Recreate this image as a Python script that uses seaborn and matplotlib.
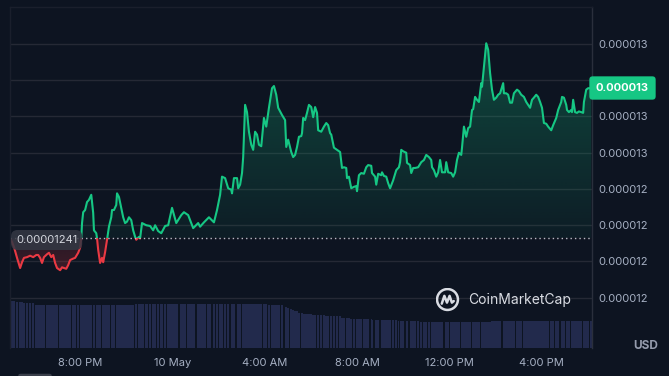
import numpy as np
import pandas as pd
import matplotlib
matplotlib.use("Agg")
import matplotlib.pyplot as plt
import matplotlib.dates as mdates
from matplotlib.patches import Rectangle, FancyBboxPatch, Circle
from matplotlib.colors import to_rgb
import seaborn as sns

# ---- data ----
start = "2024-05-09 16:58"
# minutes after start
minutes = [
    0, 5, 10, 18, 26, 31, 36, 44, 52, 60,
    68, 73, 78, 83, 88, 96, 101, 107, 112, 117,
    122, 130, 135, 140, 146, 151, 156, 164, 169, 177,
    182, 185, 187, 190, 195, 200, 205, 211, 216, 218,
    224, 226, 229, 234, 239, 242, 247, 252, 257, 263,
    265, 270, 276, 278, 283, 289, 294, 299, 304, 309,
    315, 320, 325, 328, 335, 338, 343, 354, 364, 372,
    377, 385, 393, 403, 411, 421, 432, 445, 452, 463,
    468, 476, 489, 494, 504, 517, 530, 538, 546, 551,
    559, 567, 575, 577, 582, 590, 593, 598, 603, 606,
    611, 616, 621, 627, 632, 637, 642, 647, 653, 660,
    666, 673, 681, 686, 692, 697, 707, 715, 718, 723,
    731, 736, 741, 746, 751, 757, 759, 762, 767, 772,
    777, 783, 788, 793, 798, 801, 809, 816, 822, 827,
    832, 835, 842, 850, 858, 863, 868, 874, 876, 881,
    887, 894, 900, 902, 907, 913, 920, 926, 931, 939,
    941, 949, 952, 957, 965, 967, 972, 978, 983, 988,
    996, 1004, 1011, 1014, 1017, 1022, 1030, 1032, 1040, 1043,
    1048, 1053, 1061, 1069, 1076, 1082, 1089, 1095, 1097, 1102,
    1108, 1113, 1118, 1123, 1131, 1134, 1139, 1147, 1152, 1157,
    1162, 1167, 1173, 1175, 1180, 1186, 1191, 1196, 1201, 1204,
    1209, 1214, 1219, 1225, 1227, 1232, 1238, 1243, 1248, 1253,
    1258, 1264, 1269, 1274, 1282, 1284, 1290, 1295, 1300, 1305,
    1310, 1318, 1323, 1329, 1336, 1342, 1347, 1352, 1357, 1362,
    1368, 1373, 1378, 1383, 1388, 1394, 1399, 1407, 1412, 1420,
    1425, 1433, 1435, 1440, 1446, 1448, 1453, 1459, 1461, 1464,
    1469, 1474, 1479, 1485, 1490, 1492, 1498, 1503, 1511,
]
# price in units of 1e-8 USD
price_e8 = [
    1241.0, 1240.5, 1239.8, 1238.3, 1236.9, 1237.7, 1238.3, 1238.4, 1238.6, 1238.4,
    1238.7, 1238.7, 1238.3, 1237.6, 1238.4, 1238.8, 1239.0, 1238.4, 1238.7, 1237.6,
    1236.9, 1236.6, 1237.0, 1236.9, 1236.8, 1237.3, 1238.0, 1238.2, 1238.3, 1239.0,
    1239.7, 1241.0, 1243.1, 1244.6, 1244.9, 1246.0, 1246.3, 1247.0, 1244.5, 1242.1,
    1241.7, 1241.0, 1239.4, 1237.6, 1238.3, 1237.7, 1239.1, 1240.8, 1242.6, 1243.9,
    1244.9, 1244.9, 1245.6, 1247.2, 1246.7, 1245.2, 1243.9, 1243.1, 1243.3, 1243.9,
    1243.5, 1242.1, 1241.2, 1240.8, 1241.2, 1241.0, 1243.1, 1242.8, 1242.7, 1242.1,
    1242.8, 1242.0, 1241.7, 1242.7, 1242.8, 1245.2, 1243.1, 1244.2, 1244.6, 1244.2,
    1243.5, 1242.4, 1243.1, 1242.6, 1243.2, 1243.9, 1243.2, 1244.9, 1247.0, 1249.5,
    1249.3, 1247.9, 1247.7, 1247.2, 1249.3, 1249.3, 1247.9, 1248.4, 1250.0, 1252.2,
    1259.4, 1258.4, 1255.7, 1253.9, 1253.2, 1255.7, 1255.3, 1253.9, 1253.7, 1257.6,
    1256.4, 1259.0, 1261.7, 1262.0, 1260.8, 1259.0, 1258.0, 1257.3, 1253.6, 1254.6,
    1252.9, 1252.2, 1252.5, 1253.6, 1255.0, 1255.1, 1255.5, 1257.6, 1257.3, 1258.3,
    1259.4, 1259.1, 1257.7, 1259.1, 1258.3, 1255.9, 1255.7, 1256.4, 1256.9, 1256.6,
    1255.5, 1255.3, 1253.5, 1253.2, 1252.9, 1250.7, 1250.8, 1250.7, 1249.3, 1249.5,
    1247.9, 1248.1, 1248.2, 1247.5, 1249.7, 1250.0, 1249.9, 1250.8, 1251.1, 1251.0,
    1250.0, 1249.5, 1248.4, 1249.9, 1249.7, 1250.1, 1249.6, 1249.5, 1248.6, 1247.9,
    1249.0, 1250.4, 1250.8, 1251.5, 1253.2, 1253.0, 1252.8, 1251.4, 1251.1, 1250.0,
    1250.7, 1250.7, 1250.8, 1251.5, 1251.8, 1252.5, 1252.2, 1251.8, 1250.8, 1250.4,
    1249.5, 1250.1, 1251.8, 1250.1, 1250.1, 1251.5, 1250.1, 1250.0, 1249.5, 1250.1,
    1251.8, 1252.8, 1252.5, 1253.5, 1256.4, 1255.0, 1256.2, 1256.4, 1258.7, 1258.8,
    1260.5, 1260.1, 1259.8, 1262.4, 1261.9, 1264.6, 1267.9, 1267.0, 1263.8, 1261.5,
    1260.1, 1260.4, 1260.8, 1261.0, 1262.4, 1261.0, 1261.0, 1260.8, 1259.7, 1259.7,
    1261.0, 1261.5, 1261.3, 1260.8, 1260.5, 1259.8, 1259.4, 1259.0, 1260.1, 1260.4,
    1260.8, 1260.5, 1259.8, 1259.0, 1256.9, 1256.8, 1256.4, 1255.9, 1256.6, 1257.6,
    1258.7, 1259.8, 1260.5, 1260.4, 1259.4, 1258.7, 1258.4, 1258.7, 1258.4, 1260.1,
    1258.4, 1258.3, 1258.5, 1258.4, 1258.3, 1259.8, 1261.5, 1261.7, 1261.7,
]
# 24h volume, thousand USD
volume_k = [
    48.0, 47.5, 47.0, 46.5, 46.3, 46.0, 45.5, 45.0, 44.7, 44.7,
    43.3, 43.3, 43.3, 43.3, 43.3, 43.3, 43.3, 43.3, 43.3, 43.3,
    43.3, 43.3, 43.3, 43.3, 43.3, 43.3, 43.3, 43.3, 43.3, 43.3,
    42.6, 43.3, 43.3, 43.3, 43.3, 43.3, 43.3, 43.3, 43.3, 43.3,
    43.3, 43.3, 43.3, 43.3, 43.3, 43.3, 43.3, 43.3, 43.3, 43.3,
    43.3, 43.3, 43.3, 43.3, 43.3, 43.3, 43.3, 43.3, 43.3, 43.3,
    43.3, 43.3, 43.3, 44.0, 44.0, 44.0, 44.0, 44.0, 44.0, 44.0,
    44.0, 44.0, 44.0, 44.0, 44.0, 44.0, 44.0, 44.0, 44.0, 44.0,
    44.0, 44.0, 44.0, 44.0, 44.0, 44.0, 44.0, 44.0, 44.0, 44.0,
    44.0, 44.0, 44.0, 44.0, 44.0, 44.0, 44.0, 44.0, 44.0, 44.3,
    44.3, 44.3, 44.3, 44.3, 44.3, 44.3, 44.3, 44.3, 44.3, 44.3,
    44.3, 43.3, 43.3, 43.3, 43.3, 43.3, 43.3, 41.5, 41.0, 40.5,
    39.5, 38.0, 37.3, 36.6, 35.3, 35.0, 34.7, 34.5, 34.3, 34.0,
    33.8, 33.7, 33.2, 33.2, 33.2, 33.2, 33.2, 33.2, 32.0, 32.0,
    32.0, 32.0, 32.0, 32.0, 32.0, 30.0, 30.0, 30.0, 30.0, 30.0,
    28.8, 28.8, 28.8, 28.8, 28.8, 28.8, 28.8, 28.8, 28.8, 28.8,
    27.8, 27.8, 27.8, 27.8, 27.8, 27.8, 27.8, 27.8, 27.8, 27.8,
    27.8, 27.8, 27.0, 27.0, 27.0, 27.0, 27.0, 27.0, 27.0, 27.0,
    27.0, 27.0, 27.0, 25.8, 25.8, 25.8, 25.8, 25.8, 25.8, 25.8,
    25.8, 25.8, 25.8, 25.8, 25.8, 25.8, 25.8, 25.8, 25.8, 25.8,
    25.8, 25.8, 25.8, 25.8, 25.8, 25.8, 25.8, 25.8, 25.8, 25.8,
    25.8, 25.8, 25.8, 25.8, 25.8, 25.8, 25.8, 26.2, 26.5, 27.0,
    27.0, 27.0, 27.0, 27.0, 27.0, 27.0, 27.0, 27.0, 27.0, 27.0,
    27.0, 27.0, 27.0, 27.0, 27.0, 27.0, 27.0, 27.0, 27.0, 27.0,
    27.0, 27.0, 27.0, 27.0, 27.0, 27.0, 27.0, 27.0, 27.0, 27.0,
    27.0, 27.0, 27.0, 27.0, 27.0, 27.0, 27.0, 27.0, 27.0, 27.0,
    27.0, 27.0, 27.0, 27.0, 27.0, 27.0, 27.0, 27.0, 27.0,
]
open_price = 0.00001241
open_label = "0.00001241"
last_label = "0.000013"
ytick_e8 = [1232.8, 1237.8, 1242.8, 1247.8, 1252.8, 1257.8, 1262.8, 1267.8]
hidden_tick_e8 = 1262.8  # this tick label sits under the last-price box
xtick_times = ["2024-05-09 20:00", "2024-05-10 00:00", "2024-05-10 04:00",
               "2024-05-10 08:00", "2024-05-10 12:00", "2024-05-10 16:00"]
xtick_labels = ["8:00 PM", "10 May", "4:00 AM", "8:00 AM", "12:00 PM", "4:00 PM"]

assert len(minutes) == len(price_e8) == len(volume_k)

# ---- style ----
bg = "#0d1421"
green = "#16c784"
red = "#ea3943"
grid_c = "#252935"
label_c = "#a6b0c3"

sns.set_theme(style="dark", rc={"axes.facecolor": bg, "figure.facecolor": bg,
                                "grid.color": grid_c})
plt.rcParams["font.family"] = ["Inter", "DejaVu Sans"]

times = pd.Timestamp(start) + pd.to_timedelta(minutes, unit="min")
price = np.array(price_e8) * 1e-8
df = pd.DataFrame({"time": times, "price": price})
tnum = mdates.date2num(times)

x0 = mdates.date2num(pd.Timestamp(start) - pd.Timedelta(minutes=1.6))
x1 = mdates.date2num(pd.Timestamp(start) + pd.Timedelta(minutes=1513))
ymin, ymax = 1225.87e-8, 1272.9e-8

fig = plt.figure(figsize=(6.69, 3.76), dpi=100)
rect = [9.5 / 669, 28 / 376, 582.5 / 669, 341 / 376]
vol_ax = fig.add_axes(rect)
ax = fig.add_axes(rect)
ax.set_facecolor("none")

# volume bars
gaps = np.diff(tnum, append=tnum[-1] + (tnum[-1] - tnum[-2]))
vol_ax.bar(tnum, volume_k, width=gaps * 0.85, color="#222a4c", linewidth=0)
vol_ax.set_xlim(x0, x1)
vol_ax.set_ylim(0, 341)
vol_ax.axis("off")

# price line, green above open, red below
sns.lineplot(data=df, x="time", y="price", ax=ax, color=green, lw=1.5)
green_line = ax.lines[-1]
sns.lineplot(data=df, x="time", y="price", ax=ax, color=red, lw=1.5)
red_line = ax.lines[-1]
above = Rectangle((x0, open_price), x1 - x0, ymax - open_price, transform=ax.transData)
below = Rectangle((x0, ymin), x1 - x0, open_price - ymin, transform=ax.transData)
green_line.set_clip_path(above)
red_line.set_clip_path(below)

# gradient area between line and open price
poly = ax.fill_between(tnum, price, open_price, facecolor="none", edgecolor="none")
clip = poly.get_paths()[0]


def gradient(color, a_bottom, a_top, y_lo, y_hi):
    img = np.zeros((256, 1, 4))
    img[..., :3] = to_rgb(color)
    img[:, 0, 3] = np.linspace(a_bottom, a_top, 256)
    im = ax.imshow(img, extent=[x0, x1, y_lo, y_hi], origin="lower",
                   aspect="auto", zorder=1, interpolation="bilinear")
    im.set_clip_path(clip, transform=ax.transData)


gradient(green, 0.05, 0.30, open_price, price.max())
gradient(red, 0.22, 0.12, price.min(), open_price)

ax.axhline(open_price, color="#b9bdc6", lw=1, ls=(0, (1, 2.2)), zorder=2)

# axes
ax.set_xlim(x0, x1)
ax.set_ylim(ymin, ymax)
ax.set_xlabel("")
ax.set_ylabel("")
ax.set_xticks(mdates.date2num(pd.to_datetime(xtick_times)))
ax.set_xticklabels(xtick_labels)
yt = np.array(ytick_e8) * 1e-8
ax.yaxis.tick_right()
ax.set_yticks(yt)
ax.set_yticklabels(["" if e == hidden_tick_e8 else f"{v:.6f}"
                    for e, v in zip(ytick_e8, yt)])
ax.grid(axis="y", color=grid_c, lw=1)
ax.grid(axis="x", visible=False)
ax.tick_params(axis="x", length=0, pad=7.5, labelsize=8, labelcolor=label_c)
ax.tick_params(axis="y", length=0, pad=4.5, labelsize=8, labelcolor=label_c)
for side in ["left", "top"]:
    ax.spines[side].set_color("#1a1f2c")
    ax.spines[side].set_linewidth(1)
ax.spines["right"].set_color("#2a2f3c")
ax.spines["right"].set_linewidth(1)
ax.spines["bottom"].set_visible(False)


def fx(px):
    return px / 669


def fy(py):
    return 1 - py / 376


# open price label
fig.text(fx(16), fy(240), open_label, ha="left", va="center", fontsize=8,
         color="#d3d6dd",
         bbox=dict(boxstyle="round,pad=0.45,rounding_size=0.6", fc="#343844",
                   ec="none", alpha=0.85))

# last price box
fig.text(fx(622.5), fy(88), last_label, ha="center", va="center", fontsize=8,
         color="white", weight="bold",
         bbox=dict(boxstyle="round,pad=0.6,rounding_size=0.3", fc=green, ec="none"))

fig.text(fx(646), fy(346), "USD", ha="center", va="center", fontsize=8.5,
         color="#959cad", weight="bold")

# watermark
logo_c = "#d9dce3"
fig.text(fx(468), fy(300), "CoinMarketCap", ha="left", va="center",
         fontsize=10, color=logo_c)
logo_ax = fig.add_axes([fx(435.5), fy(311.5), 24 / 669, 24 / 376])
logo_ax.set_xlim(-1.15, 1.15)
logo_ax.set_ylim(-1.15, 1.15)
logo_ax.axis("off")
logo_ax.add_patch(Circle((0, 0), 1, fill=False, ec=logo_c, lw=1.8))
logo_ax.plot([-0.55, -0.3, -0.05, 0.2, 0.42, 0.6], [-0.4, 0.35, -0.3, 0.35, -0.3, -0.15],
             color=logo_c, lw=1.8, solid_joinstyle="round", solid_capstyle="round")

# scrollbar stub at the bottom left
fig.patches.append(FancyBboxPatch((fx(21), -0.01), 28 / 669, 0.012,
                                  boxstyle="round,pad=0.004", fc="#3a3f4b", ec="none",
                                  transform=fig.transFigure, figure=fig))

fig.savefig("out.png", dpi=100, facecolor=bg)
